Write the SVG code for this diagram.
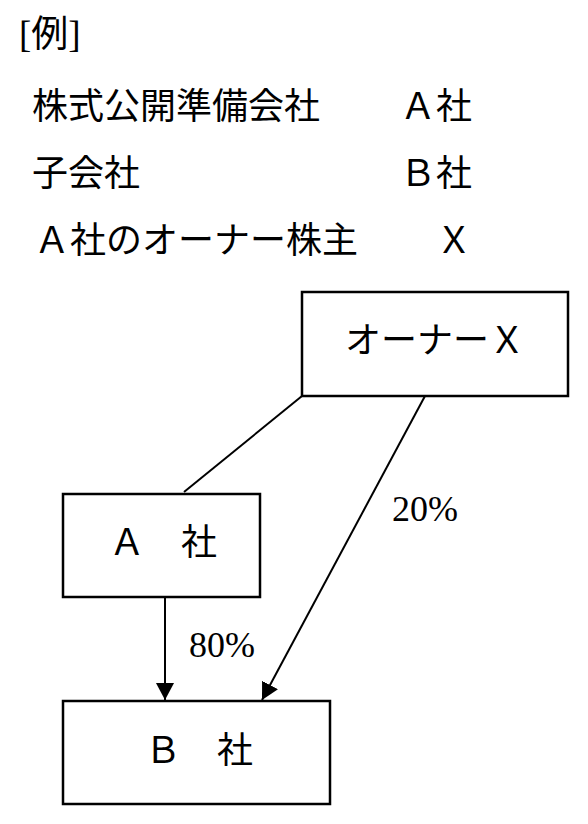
<svg xmlns="http://www.w3.org/2000/svg" width="588" height="824" viewBox="0 0 588 824">
<style>
  text { font-family: "Liberation Serif", "Noto Sans CJK JP", serif; fill: #000; }
  .t { font-size: 36px; }
  .box { fill: #fff; stroke: #000; stroke-width: 2.5; }
  .ln { stroke: #000; stroke-width: 2; fill: none; }
</style>
<defs>
  <marker id="arr" viewBox="0 0 17 18" refX="17" refY="9" markerWidth="17" markerHeight="18" markerUnits="userSpaceOnUse" orient="auto">
    <path d="M0,0 L17,9 L0,18 Z" fill="#000"/>
  </marker>
</defs>
<rect width="588" height="824" fill="#fff"/>

<g id="legend">
  <text x="19" y="47" font-size="37">[例]</text>
  <text class="t" x="32" y="119">株式公開準備会社</text>
  <text class="t" x="472" y="119" text-anchor="end">Ａ社</text>
  <text class="t" x="32" y="186">子会社</text>
  <text class="t" x="472" y="186" text-anchor="end">Ｂ社</text>
  <text class="t" x="34" y="253">Ａ社のオーナー株主</text>
  <text class="t" x="472" y="253" text-anchor="end">Ｘ</text>
</g>

<g id="connectors">
  <line class="ln" x1="302" y1="396" x2="184" y2="492"/>
  <line class="ln" x1="165" y1="597" x2="165" y2="700" marker-end="url(#arr)"/>
  <line class="ln" x1="425" y1="396" x2="262" y2="700" marker-end="url(#arr)"/>
  <text class="t" x="392" y="521" font-size="37">20%</text>
  <text class="t" x="189" y="657" font-size="37">80%</text>
</g>

<g id="ownerX">
  <rect class="box" x="302" y="292" width="266" height="104"/>
  <text class="t" x="435" y="353" text-anchor="middle">オーナーＸ</text>
</g>

<g id="companyA">
  <rect class="box" x="63" y="494" width="197" height="103"/>
  <text class="t" x="109" y="555">Ａ　社</text>
</g>

<g id="companyB">
  <rect class="box" x="63" y="701" width="267" height="103"/>
  <text class="t" x="145" y="763">Ｂ　社</text>
</g>
</svg>
